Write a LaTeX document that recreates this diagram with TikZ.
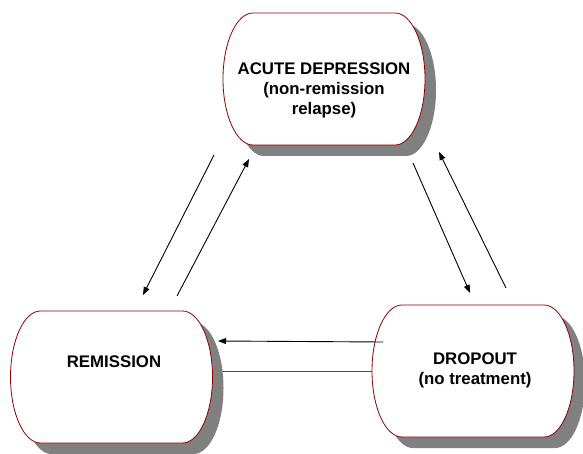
\documentclass[tikz,border=0pt]{standalone}
\usepackage{fontspec}
\setmainfont{Liberation Sans}
\usetikzlibrary{arrows.meta, calc}

\definecolor{rim}{RGB}{140,0,0}
\definecolor{shadowgray}{RGB}{128,128,128}

\begin{document}
\begin{tikzpicture}[x=1pt, y=1pt,
blob/.style={insert path={-- ++(142,0) arc[start angle=90, end angle=-90, x radius=30, y radius=66]
  -- ++(-142,0) arc[start angle=270, end angle=90, x radius=30, y radius=66] -- cycle}},
boxline/.style={draw=rim, line width=0.8pt, fill=white},
label/.style={font=\bfseries\fontsize{16.8}{20}\selectfont, align=center},
link/.style={-{Triangle[length=8pt, width=6pt]}, line width=0.9pt}]
\useasboundingbox (0,0) rectangle (583,453);

%plain line under the boxes
\coordinate (r0) at (220,82);
\coordinate (d0) at (376,82);
\draw[black!70, line width=0.9pt] (r0) -- (d0);

%shadows
\fill[shadowgray] (264,429) [blob];
\fill[shadowgray] (51.5,131) [blob];
\fill[shadowgray] (413,137) [blob];

%states
\path[boxline] (253,440) [blob];
\path[boxline] (40.5,142) [blob];
\path[boxline] (402,148) [blob];
\node[label] (acute) at (324,363) {ACUTE DEPRESSION\\(non-remission\\relapse)};
\node[label] (remission) at (114,91) {REMISSION};
\node[label] (dropout) at (475,83) {DROPOUT\\(no treatment)};

%transitions
\coordinate (a1) at (214,298);
\coordinate (r1) at (143,158);
\coordinate (r2) at (177,157);
\coordinate (a2) at (249,294);
\coordinate (a3) at (413,290);
\coordinate (d3) at (470,160);
\coordinate (d4) at (506,165);
\coordinate (a4) at (439,301);
\coordinate (d5) at (383,111);
\coordinate (r5) at (218,112);
\draw[link] (a1) -- (r1);
\draw[link] (r2) -- (a2);
\draw[link] (a3) -- (d3);
\draw[link] (d4) -- (a4);
\draw[link] (d5) -- (r5);
\end{tikzpicture}
\end{document}
